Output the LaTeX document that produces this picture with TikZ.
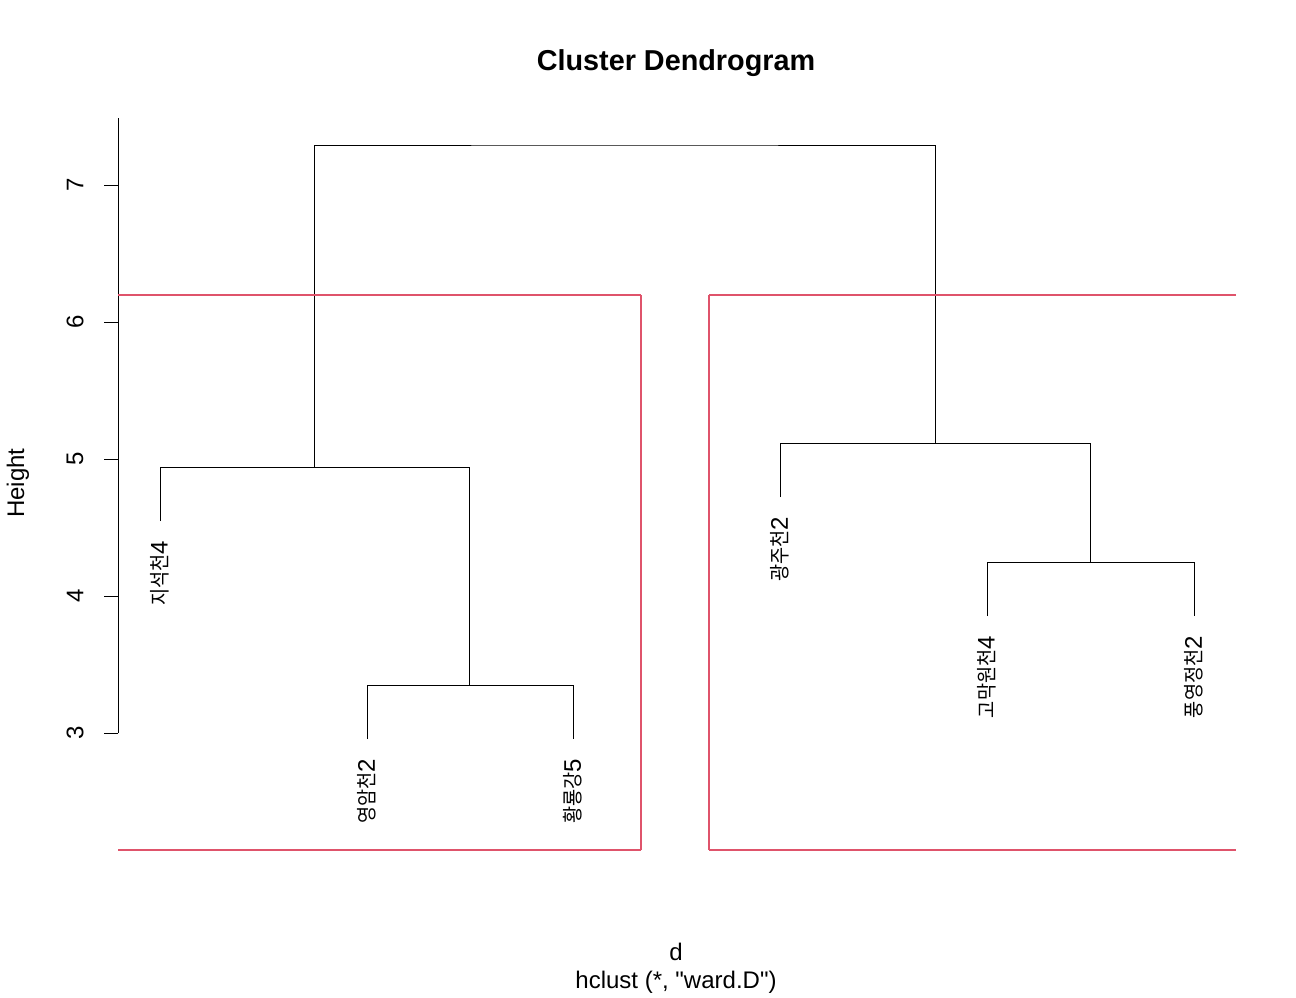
\documentclass[tikz,border=0pt]{standalone}
\usepackage{fontspec}
\setmainfont{Liberation Sans}
\newfontfamily\krfont{Noto Sans CJK KR}
\usepackage{graphicx}
\definecolor{rred}{HTML}{DF536B}
\newcommand{\krtxt}[1]{{\krfont\fontsize{15.5}{15.5}\selectfont\scalebox{0.9}[1]{#1}}}
\begin{document}
\begin{tikzpicture}[x=0.75pt,y=-0.75pt,
  every node/.style={inner sep=0pt, font=\fontsize{18}{18}\selectfont},
  tree/.style={line width=0.75pt, draw=black},
  leaflab/.style={rotate=90, anchor=east},
  ticklab/.style={rotate=90},
  cutbox/.style={draw=rred, line width=0.8pt}]
\useasboundingbox (0,0) rectangle (1296,997);

% title and axis texts
\node[font=\fontsize{21.6}{21.6}\selectfont\bfseries] (title) at (676,63) {Cluster Dendrogram};
\node (xlab) at (676,952) {d};
\node (sub) at (676,982) {hclust (*, \textquotedbl ward.D\textquotedbl )};
\node[rotate=90] (ylab) at (18,483) {Height};

% y axis
\coordinate (ax0) at (118,733);
\coordinate (ax1) at (118,118);
\draw[line width=0.75pt] (ax0) -- (ax1);
\foreach \h in {3,...,7}{
  \coordinate (t\h) at (118,{733-(\h-3)*137});
  \coordinate (tt\h) at (104,{733-(\h-3)*137});
  \draw[line width=0.75pt] (t\h) -- (tt\h);
  \node[ticklab] (tl\h) at (75,{733-(\h-3)*137}) {\h};
}

% merge points
\coordinate (m0) at (624.5,145);
\coordinate (mL) at (314,467);
\coordinate (mR) at (935,443);
\coordinate (mL2) at (469,685);
\coordinate (mR2) at (1090,562);
% leaves
\coordinate (l1) at (160,521);
\coordinate (l2) at (367,739);
\coordinate (l3) at (573,739);
\coordinate (l4) at (780,497);
\coordinate (l5) at (987,616);
\coordinate (l6) at (1194,616);

\draw[tree] (mL) |- (m0) -| (mR);
\draw[tree] (l1) |- (mL) -| (mL2);
\draw[tree] (l2) |- (mL2) -| (l3);
\draw[tree] (l4) |- (mR) -| (mR2);
\draw[tree] (l5) |- (mR2) -| (l6);

% leaf labels
\node[leaflab] (n1) at (160,541) {\krtxt{지석천}4};
\node[leaflab] (n2) at (367,759) {\krtxt{영암천}2};
\node[leaflab] (n3) at (573,759) {\krtxt{황룡강}5};
\node[leaflab] (n4) at (780,517) {\krtxt{광주천}2};
\node[leaflab] (n5) at (987,636) {\krtxt{고막원천}4};
\node[leaflab] (n6) at (1194,636) {\krtxt{풍영정천}2};

% cut rectangles
\coordinate (ra) at (118,295);
\coordinate (ra2) at (641,295);
\coordinate (rb) at (641,850);
\coordinate (rb2) at (118,850);
\coordinate (rc) at (709,295);
\coordinate (rc2) at (1236,295);
\coordinate (rd) at (709,850);
\coordinate (rd2) at (1236,850);
\draw[cutbox] (ra) -- (ra2);
\draw[cutbox] (ra2) -- (rb);
\draw[cutbox] (rb) -- (rb2);
\draw[cutbox] (rc2) -- (rc);
\draw[cutbox] (rc) -- (rd);
\draw[cutbox] (rd) -- (rd2);
\end{tikzpicture}
\end{document}
